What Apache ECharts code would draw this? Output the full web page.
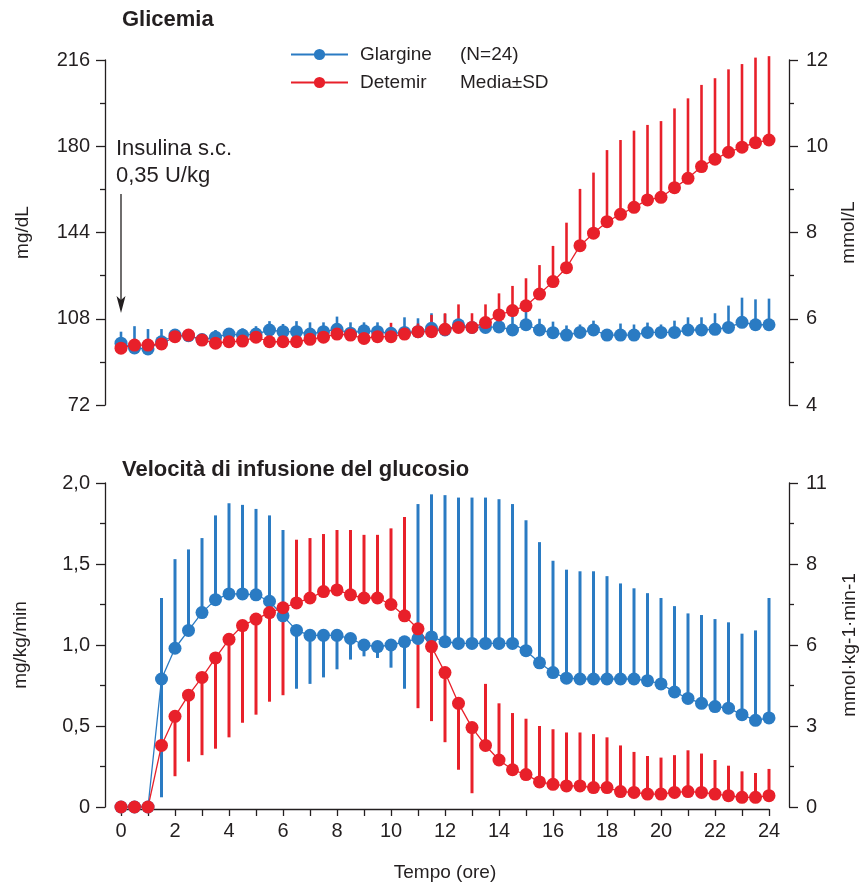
<!DOCTYPE html>
<html>
<head>
<meta charset="utf-8">
<title>Glicemia e velocità di infusione del glucosio</title>
<script src="https://cdn.jsdelivr.net/npm/echarts/dist/echarts.min.js"></script>
<style>
  html, body { margin: 0; padding: 0; background: #fff; }
  #chart { width: 862px; height: 884px; }
</style>
</head>
<body>
<div id="chart"></div>
<script>
  // tempo (ore)
  var times = [0, 0.5, 1, 1.5, 2, 2.5, 3, 3.5, 4, 4.5, 5, 5.5, 6, 6.5, 7, 7.5, 8, 8.5, 9, 9.5,
    10, 10.5, 11, 11.5, 12, 12.5, 13, 13.5, 14, 14.5, 15, 15.5, 16, 16.5, 17, 17.5, 18, 18.5, 19, 19.5,
    20, 20.5, 21, 21.5, 22, 22.5, 23, 23.5, 24]

  // glicemia (mg/dL), media e estremo superiore della barra SD
  var glarGlu = [97.8, 95.8, 95.4, 98.4, 101.2, 100.9, 99.3, 100.3, 101.6, 101.2, 101.6, 103.3, 102.6, 102.6, 101.6, 102.6, 103.6, 102.0, 103.0, 102.6,
    101.9, 102.3, 102.6, 104.0, 103.3, 105.5, 104.4, 104.4, 104.6, 103.3, 105.5, 103.3, 102.2, 101.2, 102.3, 103.3, 101.2, 101.2, 101.2, 102.3,
    102.3, 102.3, 103.3, 103.3, 103.6, 104.4, 106.5, 105.5, 105.5]
  var glarGluHi = [102.6, 104.9, 103.7, 103.7, null, null, null, 103.3, null, 104.0, 104.9, 107.0, 105.8, 107.0, 106.5, 106.5, 108.9, 106.5, 106.5, 106.5,
    104.3, 108.6, 108.2, 110.3, 110.0, 107.5, 106.5, 108.0, 109.2, 110.3, 111.0, 108.0, 106.8, 105.2, 105.6, 107.2, 102.5, 106.0, 105.6, 106.4,
    105.6, 107.2, 108.6, 108.6, 110.3, 113.5, 116.8, 116.1, 116.4]
  var detGlu = [95.7, 97.0, 97.0, 97.5, 100.5, 101.2, 99.1, 97.8, 98.4, 98.7, 100.3, 98.4, 98.4, 98.4, 99.4, 100.3, 101.6, 101.2, 99.8, 100.5,
    100.5, 101.6, 102.6, 102.6, 103.6, 104.4, 104.4, 106.4, 109.6, 111.4, 113.4, 118.3, 123.5, 129.3, 138.5, 143.7, 148.5, 151.6, 154.5, 157.6,
    158.7, 162.7, 166.6, 171.5, 174.6, 177.5, 179.6, 181.5, 182.6]
  var detGluHi = [null, null, null, null, null, null, null, null, null, null, null, null, null, null, null, null, null, null, null, null,
    106.3, null, 106.0, 109.6, 110.3, 114.0, 110.3, 114.0, 118.6, 121.7, 124.9, 130.4, 138.4, 148.1, 162.2, 169.0, 178.4, 182.6, 186.5, 188.9,
    190.5, 195.8, 200.0, 205.6, 208.4, 212.1, 214.3, 217.0, 217.6]

  // velocità di infusione del glucosio (mg/kg/min), media ed estremi delle barre SD
  var glarGir = [0, 0, 0, 0.79, 0.98, 1.09, 1.20, 1.28, 1.315, 1.315, 1.31, 1.27, 1.18, 1.09, 1.06, 1.06, 1.06, 1.04, 1.00, 0.99,
    1.00, 1.02, 1.04, 1.05, 1.02, 1.01, 1.01, 1.01, 1.01, 1.01, 0.965, 0.89, 0.83, 0.795, 0.79, 0.79, 0.79, 0.79, 0.79, 0.78,
    0.76, 0.71, 0.67, 0.64, 0.62, 0.61, 0.57, 0.535, 0.55]
  var glarGirLo = [null, null, null, 0.06, null, null, null, null, null, null, null, null, null, 0.73, 0.76, 0.80, 0.85, 0.91, 0.93, 0.92,
    0.86, 0.73, null, null, null, null, null, null, null, null, null, null, null, null, null, null, null, null, null, null,
    null, null, null, null, null, null, null, null, null]
  var glarGirHi = [null, null, null, 1.29, 1.53, 1.59, 1.66, 1.80, 1.875, 1.865, 1.84, 1.80, 1.71, null, null, null, null, null, null, null,
    null, null, 1.87, 1.93, 1.925, 1.91, 1.91, 1.91, 1.90, 1.87, 1.77, 1.635, 1.52, 1.465, 1.455, 1.455, 1.425, 1.38, 1.35, 1.32,
    1.29, 1.24, 1.195, 1.185, 1.16, 1.14, 1.07, 1.09, 1.29]
  var detGir = [0, 0, 0, 0.38, 0.56, 0.69, 0.80, 0.92, 1.035, 1.12, 1.16, 1.20, 1.23, 1.26, 1.29, 1.33, 1.34, 1.31, 1.29, 1.29,
    1.25, 1.18, 1.10, 0.99, 0.83, 0.64, 0.49, 0.38, 0.29, 0.23, 0.20, 0.155, 0.14, 0.13, 0.13, 0.12, 0.12, 0.095, 0.09, 0.08,
    0.08, 0.09, 0.095, 0.09, 0.08, 0.07, 0.06, 0.06, 0.07]
  var detGirLo = [null, null, null, null, 0.19, 0.28, 0.32, 0.36, 0.43, 0.52, 0.57, 0.65, 0.69, null, null, null, null, null, null, null,
    null, null, 0.61, 0.53, 0.40, 0.23, 0.085, null, null, null, null, null, null, null, null, null, null, null, null, null,
    null, null, null, null, null, null, null, null, null]
  var detGirHi = [null, null, null, null, null, null, null, null, null, null, null, null, null, 1.65, 1.66, 1.685, 1.71, 1.71, 1.68, 1.68,
    1.72, 1.79, null, null, null, null, null, 0.76, 0.64, 0.58, 0.545, 0.50, 0.48, 0.46, 0.46, 0.45, 0.43, 0.38, 0.34, 0.315,
    0.305, 0.32, 0.35, 0.33, 0.29, 0.255, 0.22, 0.21, 0.235]

  // etichette degli assi
  var gluMgLabels = ['72', '108', '144', '180', '216']
  var gluMmolLabels = ['4', '6', '8', '10', '12']
  var girMgLabels = ['0', '0,5', '1,0', '1,5', '2,0']
  var girMmolLabels = ['0', '3', '6', '8', '11']
  var legendNotes = { 'Glargine': '(N=24)', 'Detemir': 'Media±SD' }

  var BLUE = '#2a7bc3'
  var RED = '#e8202a'
  var INK = '#231f20'
  var FONT = '"Liberation Sans", Arial, Helvetica, sans-serif'

  function points (mean) {
    return times.map(function (t, i) { return [t, mean[i]] })
  }
  function bars (mean, lo, hi) {
    return times.map(function (t, i) {
      var a = lo && lo[i] != null ? lo[i] : mean[i]
      var b = hi && hi[i] != null ? hi[i] : mean[i]
      return [t, a, b]
    })
  }
  function errBar (width) {
    return function (params, api) {
      var x = api.value(0)
      var p1 = api.coord([x, api.value(1)])
      var p2 = api.coord([x, api.value(2)])
      return {
        type: 'line',
        shape: { x1: p1[0], y1: p1[1], x2: p2[0], y2: p2[1] },
        style: { stroke: api.visual('color'), lineWidth: width }
      }
    }
  }
  function labelFrom (list, min, step) {
    return function (v) {
      var k = Math.round((v - min) / step)
      return list[k] != null ? list[k] : ''
    }
  }
  function yAxisBase (grid, min, max, step, pos, offset) {
    return {
      type: 'value',
      gridIndex: grid,
      position: pos,
      min: min,
      max: max,
      interval: step,
      offset: offset,
      axisLine: { show: true, onZero: false, lineStyle: { color: INK, width: 1.3 } },
      axisTick: { show: true, length: 9, lineStyle: { color: INK, width: 1.3 } },
      minorTick: { show: true, splitNumber: 2, length: 5, lineStyle: { color: INK, width: 1.3 } },
      splitLine: { show: false },
      minorSplitLine: { show: false },
      nameLocation: 'middle',
      nameRotate: 90,
      nameTextStyle: { fontSize: 19, color: INK, fontFamily: FONT },
      axisLabel: { fontSize: 20, color: INK, fontFamily: FONT, margin: pos === 'left' ? 15 : 17 }
    }
  }
  function lineSeries (name, data, color, xi, yi) {
    return {
      name: name,
      type: 'line',
      xAxisIndex: xi,
      yAxisIndex: yi,
      data: data,
      symbol: 'circle',
      symbolSize: 13,
      showSymbol: true,
      clip: false,
      z: 3,
      itemStyle: { color: color },
      lineStyle: { color: color, width: 1.3 }
    }
  }
  function barSeries (name, data, color, xi, yi, width) {
    return {
      name: name,
      type: 'custom',
      xAxisIndex: xi,
      yAxisIndex: yi,
      data: data,
      encode: { x: 0, y: [1, 2] },
      renderItem: errBar(width),
      itemStyle: { color: color },
      z: 2
    }
  }

  var yGluL = yAxisBase(0, 72, 216, 36, 'left', 16)
  yGluL.name = 'mg/dL'
  yGluL.nameGap = 73
  yGluL.axisLabel.formatter = labelFrom(gluMgLabels, 72, 36)
  var yGluR = yAxisBase(0, 72, 216, 36, 'right', 20)
  yGluR.name = 'mmol/L'
  yGluR.nameGap = 49
  yGluR.axisLabel.formatter = labelFrom(gluMmolLabels, 72, 36)
  var yGirL = yAxisBase(1, 0, 2, 0.5, 'left', 16)
  yGirL.name = 'mg/kg/min'
  yGirL.nameGap = 75
  yGirL.axisLabel.formatter = labelFrom(girMgLabels, 0, 0.5)
  var yGirR = yAxisBase(1, 0, 2, 0.5, 'right', 20)
  yGirR.name = 'mmol·kg-1·min-1'
  yGirR.nameGap = 51
  yGirR.axisLabel.formatter = labelFrom(girMmolLabels, 0, 0.5)

  var option = {
    animation: false,
    backgroundColor: '#fff',
    textStyle: { fontFamily: FONT, color: INK },
    title: [
      { text: 'Glicemia', left: 122, top: 9, padding: 0, textStyle: { fontSize: 22, fontWeight: 'bold', color: INK, fontFamily: FONT } },
      { text: 'Velocità di infusione del glucosio', left: 122, top: 459, padding: 0, textStyle: { fontSize: 22, fontWeight: 'bold', color: INK, fontFamily: FONT } }
    ],
    legend: {
      data: ['Glargine', 'Detemir'],
      orient: 'vertical',
      left: 290,
      top: 45,
      padding: 0,
      itemWidth: 57,
      itemHeight: 14,
      itemGap: 9,
      selectedMode: false,
      lineStyle: { width: 2 },
      formatter: function (name) {
        return '{a|' + name + '}{b|' + legendNotes[name] + '}'
      },
      textStyle: {
        fontSize: 19,
        color: INK,
        fontFamily: FONT,
        padding: [0, 0, 0, 7],
        rich: {
          a: { fontSize: 19, width: 100, color: INK, fontFamily: FONT },
          b: { fontSize: 19, color: INK, fontFamily: FONT }
        }
      }
    },
    grid: [
      { left: 121, right: 93, top: 60, height: 345, outerBoundsMode: 'none' },
      { left: 121, right: 93, top: 483, height: 324, outerBoundsMode: 'none' }
    ],
    xAxis: [
      { type: 'value', gridIndex: 0, min: 0, max: 24, show: false },
      {
        type: 'value',
        gridIndex: 1,
        min: 0,
        max: 24,
        interval: 1,
        offset: 2,
        name: 'Tempo (ore)',
        nameLocation: 'middle',
        nameGap: 54,
        nameTextStyle: { fontSize: 19, color: INK, fontFamily: FONT },
        axisLine: { show: true, onZero: false, lineStyle: { color: INK, width: 1.3 } },
        axisTick: { show: true, length: 7, lineStyle: { color: INK, width: 1.3 } },
        splitLine: { show: false },
        axisLabel: {
          fontSize: 20,
          color: INK,
          fontFamily: FONT,
          margin: 12,
          formatter: function (v) { return v % 2 === 0 ? String(v) : '' }
        }
      }
    ],
    yAxis: [yGluL, yGluR, yGirL, yGirR],
    graphic: [
      { type: 'text', left: 116, top: 138, style: { text: 'Insulina s.c.', fontSize: 22, fill: INK, fontFamily: FONT } },
      { type: 'text', left: 116, top: 165, style: { text: '0,35 U/kg', fontSize: 22, fill: INK, fontFamily: FONT } },
      { type: 'line', shape: { x1: 121, y1: 194, x2: 121, y2: 302 }, style: { stroke: INK, lineWidth: 1.3 } },
      { type: 'polygon', shape: { points: [[116.5, 296], [121, 313], [125.5, 296], [121, 300]] }, style: { fill: INK } }
    ],
    series: [
      barSeries('Glargine SD', bars(glarGlu, null, glarGluHi), BLUE, 0, 0, 2.6),
      barSeries('Detemir SD', bars(detGlu, null, detGluHi), RED, 0, 0, 2.6),
      barSeries('Glargine SD', bars(glarGir, glarGirLo, glarGirHi), BLUE, 1, 2, 3),
      barSeries('Detemir SD', bars(detGir, detGirLo, detGirHi), RED, 1, 2, 3),
      lineSeries('Glargine', points(glarGlu), BLUE, 0, 0),
      lineSeries('Glargine', points(glarGir), BLUE, 1, 2),
      lineSeries('Detemir', points(detGlu), RED, 0, 0),
      lineSeries('Detemir', points(detGir), RED, 1, 2)
    ]
  }

  var chart = echarts.init(document.getElementById('chart'))
  chart.setOption(option)
  window.addEventListener('resize', function () {
    chart.resize()
  })
</script>
</body>
</html>
